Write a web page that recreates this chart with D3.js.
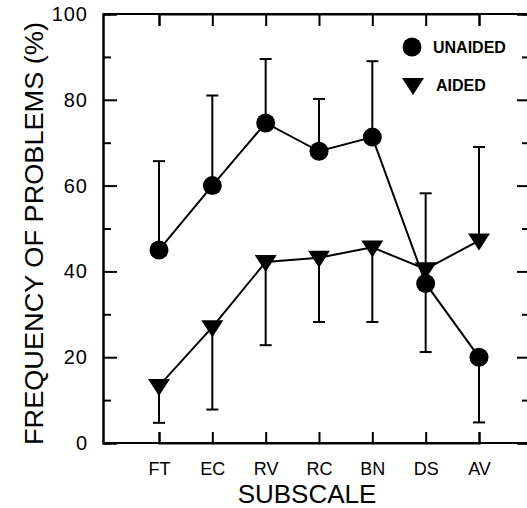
<!DOCTYPE html>
<html>
<head>
<meta charset="utf-8">
<script src="https://cdn.jsdelivr.net/npm/d3@7"></script>
<style>
  html, body { margin: 0; padding: 0; background: #fff; }
  svg { display: block; }
  text { font-family: "Liberation Sans", Arial, Helvetica, sans-serif; fill: #000; }
</style>
</head>
<body>
<svg id="chart" width="527" height="508"></svg>
<script>
// ---- data ----
const categories = ["FT", "EC", "RV", "RC", "BN", "DS", "AV"];
const unaided = [45, 60, 74.6, 68, 71.3, 37.2, 20];
const unaidedBarEnd = [65.7, 81, 89.5, 80.2, 89, 21.2, 4.8];
const aided = [13.3, 27, 42.2, 43.2, 45.6, 40.5, 47.2];
const aidedBarEnd = [4.7, 7.8, 22.8, 28.2, 28.2, 58.2, 69];
const yMajorTicks = [0, 20, 40, 60, 80, 100];
const yMinorTicks = [10, 30, 50, 70, 90];
const legendLabels = ["UNAIDED", "AIDED"];
const yTitle = "FREQUENCY OF PROBLEMS (%)";
const xTitle = "SUBSCALE";

// ---- layout ----
const plotL = 103, plotR = 529, plotT = 14, plotB = 443;
const svg = d3.select("#chart");

const x = d3.scalePoint().domain(categories).range([159, 479]);
const y = d3.scaleLinear().domain([0, 100]).range([plotB, plotT]);

// frame lines
const frame = svg.append("g").attr("stroke", "#000").attr("stroke-width", 2).attr("fill", "none");
frame.append("line").attr("x1", plotL).attr("x2", plotR).attr("y1", plotT).attr("y2", plotT);
frame.append("line").attr("x1", plotL).attr("x2", plotR).attr("y1", plotB).attr("y2", plotB);

// left axis
const yAxisG = svg.append("g").attr("transform", `translate(${plotL},0)`)
  .call(d3.axisLeft(y).tickValues(yMajorTicks).tickSize(-14).tickPadding(15).tickFormat(d3.format("d")));
svg.append("g").attr("transform", `translate(${plotL},0)`)
  .call(d3.axisLeft(y).tickValues(yMinorTicks).tickSize(-8).tickFormat(""));
// right axis (just past canvas edge, ticks inward)
svg.append("g").attr("transform", `translate(${plotR},0)`)
  .call(d3.axisRight(y).tickValues(yMajorTicks).tickSize(-12).tickFormat(""));
svg.append("g").attr("transform", `translate(${plotR},0)`)
  .call(d3.axisRight(y).tickValues(yMinorTicks).tickSize(-7).tickFormat(""));
// bottom axis
const xAxisG = svg.append("g").attr("transform", `translate(0,${plotB})`)
  .call(d3.axisBottom(x).tickSize(-11).tickPadding(19));
// top axis
svg.append("g").attr("transform", `translate(0,${plotT})`)
  .call(d3.axisTop(x).tickSize(-12).tickFormat(""));

svg.selectAll(".domain").attr("stroke-width", 2);
svg.selectAll(".tick line").attr("stroke-width", 2);
svg.selectAll(".tick text").attr("font-family", "Liberation Sans, Arial, sans-serif");
xAxisG.selectAll(".tick text").attr("font-size", 18);
yAxisG.selectAll(".tick text").attr("font-size", 20).attr("letter-spacing", 1);

// axis titles
svg.append("text")
  .attr("transform", `translate(43,${(plotB + 20) / 2 + 2}) rotate(-90)`)
  .attr("text-anchor", "middle")
  .attr("font-size", 25)
  .attr("textLength", 423)
  .attr("lengthAdjust", "spacingAndGlyphs")
  .text(yTitle);
svg.append("text")
  .attr("x", 307).attr("y", 503)
  .attr("text-anchor", "middle")
  .attr("font-size", 26)
  .text(xTitle);

// series
const line = d3.line().x((d, i) => x(categories[i])).y(d => y(d));
const triPath = "M-11,-7 L11,-7 L0,10 Z";

function drawSeries(vals, ends, marker) {
  const g = svg.append("g");
  g.selectAll("line.err").data(vals).join("line").attr("class", "err")
    .attr("x1", (d, i) => x(categories[i])).attr("x2", (d, i) => x(categories[i]))
    .attr("y1", d => y(d)).attr("y2", (d, i) => y(ends[i]))
    .attr("stroke", "#000").attr("stroke-width", 2);
  g.selectAll("line.cap").data(ends).join("line").attr("class", "cap")
    .attr("x1", (d, i) => x(categories[i]) - 6).attr("x2", (d, i) => x(categories[i]) + 6)
    .attr("y1", d => y(d)).attr("y2", d => y(d))
    .attr("stroke", "#000").attr("stroke-width", 2);
  g.append("path").datum(vals).attr("d", line)
    .attr("fill", "none").attr("stroke", "#000").attr("stroke-width", 2);
  if (marker === "circle") {
    g.selectAll("circle").data(vals).join("circle")
      .attr("cx", (d, i) => x(categories[i])).attr("cy", d => y(d)).attr("r", 9.5).attr("fill", "#000");
  } else {
    g.selectAll("path.tri").data(vals).join("path").attr("class", "tri")
      .attr("transform", (d, i) => `translate(${x(categories[i])},${y(d)})`)
      .attr("d", triPath).attr("fill", "#000");
  }
}
drawSeries(unaided, unaidedBarEnd, "circle");
drawSeries(aided, aidedBarEnd, "tri");

// legend
const lg = svg.append("g");
lg.append("circle").attr("cx", 412).attr("cy", 47).attr("r", 9.5).attr("fill", "#000");
lg.append("path").attr("transform", "translate(413,85)").attr("d", triPath).attr("fill", "#000");
lg.append("text").attr("x", 433).attr("y", 53).attr("font-size", 16).attr("font-weight", "bold").text(legendLabels[0]);
lg.append("text").attr("x", 436).attr("y", 91).attr("font-size", 16).attr("font-weight", "bold").text(legendLabels[1]);
</script>
</body>
</html>
